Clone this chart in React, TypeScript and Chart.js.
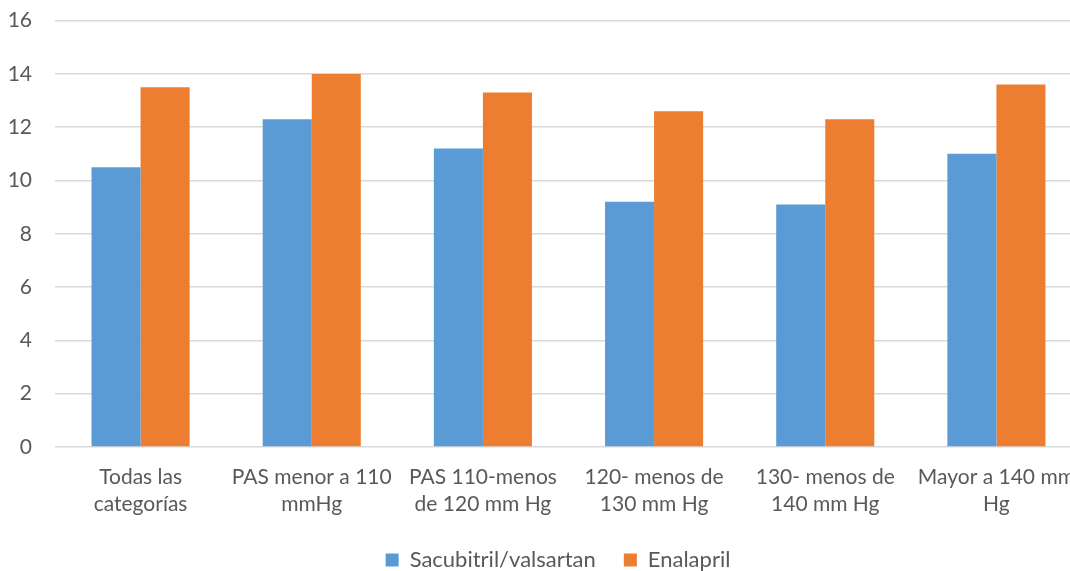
import React, { useEffect, useRef } from "react";
import { Chart, registerables } from "chart.js";

Chart.register(...registerables);

const categories: string[][] = [
  ["Todas las", "categorías"],
  ["PAS menor a 110", "mmHg"],
  ["PAS 110-menos", "de 120 mm Hg"],
  ["120- menos de", "130 mm Hg"],
  ["130- menos de", "140 mm Hg"],
  ["Mayor a 140 mm", "Hg"],
];
const sacubitril: number[] = [10.5, 12.3, 11.2, 9.2, 9.1, 11.0];
const enalapril: number[] = [13.5, 14.0, 13.3, 12.6, 12.3, 13.6];
const seriesNames: string[] = ["Sacubitril/valsartan", "Enalapril"];
const yTicks: number[] = [0, 2, 4, 6, 8, 10, 12, 14, 16];

const FONT = "Lato, 'Open Sans', sans-serif";
const TEXT = "#595959";

export default function App() {
  const ref = useRef<HTMLCanvasElement | null>(null);
  useEffect(() => {
    if (!ref.current) return;
    const chart = new Chart(ref.current, {
      type: "bar",
      data: {
        labels: categories,
        datasets: [
          {
            label: seriesNames[0],
            data: sacubitril,
            backgroundColor: "#5B9BD5",
            categoryPercentage: 0.573,
            barPercentage: 1,
          },
          {
            label: seriesNames[1],
            data: enalapril,
            backgroundColor: "#ED7D31",
            categoryPercentage: 0.573,
            barPercentage: 1,
          },
        ],
      },
      options: {
        responsive: false,
        animation: false,
        layout: { padding: { left: 0, right: 0, top: 0, bottom: 0 } },
        plugins: {
          tooltip: { enabled: false },
          legend: {
            position: "bottom",
            labels: {
              boxWidth: 13,
              boxHeight: 13,
              padding: 28,
              color: TEXT,
              font: { family: FONT, size: 22 },
            },
          },
        },
        scales: {
          x: {
            grid: { display: false, drawTicks: false },
            border: { display: false },
            ticks: {
              color: TEXT,
              font: { family: FONT, size: 21, lineHeight: 1.29 },
              padding: 17,
              maxRotation: 0,
              autoSkip: false,
            },
            afterFit: (s: any) => {
              s.height = 74;
            },
          },
          y: {
            min: 0,
            max: 16,
            afterBuildTicks: (s: any) => {
              s.ticks = yTicks.map((v) => ({ value: v }));
            },
            grid: { color: "#D9D9D9", lineWidth: 1.5, drawTicks: false },
            border: { display: false },
            ticks: {
              color: TEXT,
              font: { family: FONT, size: 21 },
              padding: 23,
            },
            afterFit: (s: any) => {
              s.width = 55;
            },
          },
          yRight: {
            position: "right",
            min: 0,
            max: 16,
            grid: { display: false, drawTicks: false },
            border: { display: false },
            ticks: { display: false },
            afterFit: (s: any) => {
              s.width = 34;
            },
          },
        },
      },
    });
    return () => chart.destroy();
  }, []);
  return (
    <div
      style={{
        position: "fixed",
        left: 0,
        top: 0,
        width: 1070,
        height: 571,
        overflow: "hidden",
        background: "#fff",
      }}
    >
      <canvas
        ref={ref}
        width={1116}
        height={596}
        style={{ display: "block", marginTop: -15 }}
      />
    </div>
  );
}
